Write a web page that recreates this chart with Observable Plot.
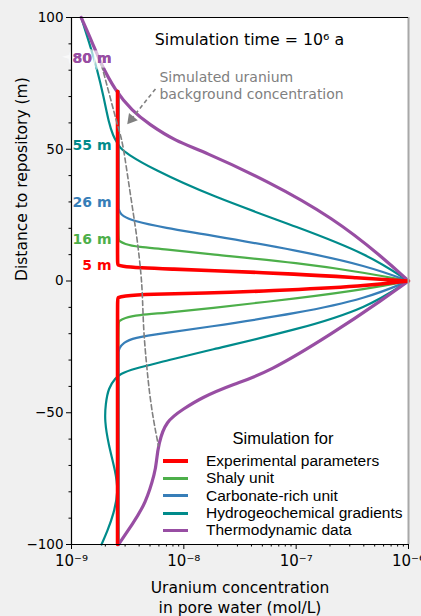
<!DOCTYPE html>
<html><head><meta charset="utf-8">
<script src="https://cdn.jsdelivr.net/npm/d3@7"></script>
<script src="https://cdn.jsdelivr.net/npm/@observablehq/plot@0.6"></script>
<style>
body{margin:0;background:#f0f0f0;}
#wrap{position:relative;width:421px;height:616px;overflow:hidden;}
#legend{position:absolute;left:160px;top:428px;width:246px;font-family:"Liberation Sans",Arial,sans-serif;color:#000;}
#legend .title{font-size:16.5px;line-height:20px;height:24.5px;text-align:center;}
#legend .row{display:flex;align-items:center;height:17.3px;font-size:15.5px;white-space:nowrap;}
#legend .sw{margin-left:3px;width:25px;margin-right:18px;}
</style></head><body><div id="wrap"></div>
<script>
// ---- data (distance to repository in m, uranium concentration in mol/L) ----
const seriesNames = ["Experimental parameters","Shaly unit","Carbonate-rich unit","Hydrogeochemical gradients","Thermodynamic data"];
const seriesColors = ["#ff0000","#4daf4a","#377eb8","#008b8b","#984ea3"];

const redDepth = [72, 6.2, 5.6, 5.0, 4.5, 4.1, 2.6, 1.2, 0, -1.9, -3.8, -4.6, -5.0, -5.7, -6.4, -100];
const redConc  = [2.57e-9, 2.57e-9, 2.75e-9, 4e-9, 8e-9, 1.5e-8, 1.09e-7, 3.5e-7, 1e-6, 4.3e-7, 5.6e-8, 1.5e-8, 5e-9, 2.8e-9, 2.57e-9, 2.57e-9];

const greenDepth = [72, 15.4, 14.0, 12.9, 12.1, 10.3, 6.8, 3.0, 0, -3.0, -6.5, -10.6, -12.1, -12.9, -14.0, -15.4, -100];
const greenConc  = [2.62e-9, 2.62e-9, 2.95e-9, 3.9e-9, 6.9e-9, 1.56e-8, 1.09e-7, 4.3e-7, 1e-6, 4.3e-7, 1.09e-7, 1.5e-8, 6.9e-9, 3.9e-9, 2.95e-9, 2.62e-9, 2.62e-9];

const blueDepth = [72, 27.5, 26.0, 24.7, 22.8, 20.1, 17.8, 11.4, 5.7, 0, -6.5, -12.1, -17.8, -19.7, -21.6, -23.5, -25.5, -27.3, -100];
const blueConc  = [2.62e-9, 2.62e-9, 2.7e-9, 2.84e-9, 3.5e-9, 6.9e-9, 1.5e-8, 1.09e-7, 4.3e-7, 1e-6, 4.3e-7, 1.09e-7, 1.45e-8, 6.9e-9, 3.5e-9, 2.9e-9, 2.65e-9, 2.62e-9, 2.62e-9];

const tealDepth = [100, 90, 80, 70, 60, 55, 52.5, 50.5, 48.2, 42.9, 32.3, 20.1, 10.2, 0, -10.2, -18.2, -26.7, -30.4, -33.4, -35.3, -36.8, -40.6, -46.7, -53, -61.9, -72.1, -80, -88.4, -94.9, -100];
const tealConc  = [1.22e-9, 1.45e-9, 1.70e-9, 1.93e-9, 2.15e-9, 2.35e-9, 2.55e-9, 2.7e-9, 3.15e-9, 5.05e-9, 1.73e-8, 1.09e-7, 4.31e-7, 1e-6, 4.3e-7, 1.09e-7, 1.5e-8, 6.9e-9, 3.49e-9, 2.73e-9, 2.46e-9, 2.13e-9, 2.01e-9, 1.97e-9, 2.13e-9, 2.46e-9, 2.62e-9, 2.37e-9, 2.09e-9, 1.85e-9];

const purpleDepth = [100, 90, 83, 72.1, 64.5, 59.6, 53.1, 49.3, 38, 23.9, 8.7, 0, -6.8, -19.7, -34.9, -39.1, -44.4, -48.5, -53.1, -61.9, -68.3, -72.1, -84.6, -92.2, -100];
const purpleConc  = [1.22e-9, 1.55e-9, 1.8e-9, 2.46e-9, 3.49e-9, 4.85e-9, 8.43e-9, 1.47e-8, 5.56e-8, 2.15e-7, 6.0e-7, 1e-6, 6.0e-7, 2.15e-7, 5.56e-8, 2.77e-8, 1.41e-8, 1.0e-8, 6.9e-9, 5.95e-9, 5.7e-9, 5.59e-9, 4.56e-9, 3.49e-9, 2.62e-9];

const bgDepth = [82, 70, 57.7, 53.1, 40.6, 27.7, 15.2, 1.1, -6.5, -19, -31.5, -42.9, -53, -62.6];
const bgConc  = [1.85e-9, 2.2e-9, 2.62e-9, 2.84e-9, 3.14e-9, 3.49e-9, 3.87e-9, 4.2e-9, 4.29e-9, 4.38e-9, 4.65e-9, 4.95e-9, 5.37e-9, 5.95e-9];

const distLabels = ["80 m", "55 m", "26 m", "16 m", "5 m"];
const distLabelDepth = [84.6, 51.6, 29.6, 15.9, 5.7];
const distLabelColorIndex = [4, 3, 2, 1, 0];
const distLabelConc = 2.27e-9;

const xTicks = [1e-9, 1e-8, 1e-7, 1e-6];
const xTickLabels = ["10⁻⁹", "10⁻⁸", "10⁻⁷", "10⁻⁶"];
const yTicks = [100, 50, 0, -50, -100];
const yTickLabels = ["100", "50", "0", "−50", "−100"];
const yMinorTicks = [90, 80, 70, 60, 40, 30, 20, 10, -10, -20, -30, -40, -60, -70, -80, -90];

const titleText = "Simulation time = 10⁶ a";
const titlePos = {c: 3.84e-8, d: 91.6};
const noteText = "Simulated uranium\nbackground concentration";
const notePos = {c: 6.07e-9, d: 74.3};
const arrowFrom = {c: 5.59e-9, d: 72.9};
const arrowHead = {c: 3.41e-9, d: 61.4};

// ---- build ----
const depths = [redDepth, greenDepth, blueDepth, tealDepth, purpleDepth];
const concs = [redConc, greenConc, blueConc, tealConc, purpleConc];
const widths = [3.6, 2.2, 2.2, 2.2, 3.2];
// repeat the source point (peak) and corner points so the smoothing spline passes through them
const rowsOf = (D, C) => D.flatMap((d, i) => {
  const p = {d, c: C[i]};
  return C[i] === 1e-6 ? [p, p, p] : (i > 0 && i < D.length - 1 && C[i] === C[i - 1]) || (i > 0 && i < D.length - 1 && C[i] === C[i + 1]) ? [p, p] : [p];
});
const drawOrder = [1, 2, 3, 4, 0];
const lineMarks = drawOrder.map(i => Plot.line(rowsOf(depths[i], concs[i]), {
  x: "c", y: "d", stroke: seriesColors[i], strokeWidth: widths[i], curve: "basis"
}));

const xMinor = [];
xTicks.slice(0, -1).forEach(t => { for (let k = 2; k <= 9; k++) xMinor.push(t * k); });

const labelRows = distLabels.map((t, i) => ({t, d: distLabelDepth[i], c: distLabelConc, col: seriesColors[distLabelColorIndex[i]]}));

const chart = Plot.plot({
  width: 421, height: 616,
  marginLeft: 71, marginRight: 13, marginTop: 17, marginBottom: 72,
  x: {type: "log", domain: [1e-9, 1e-6]},
  y: {domain: [-100, 100]},
  style: {background: "#f0f0f0", fontFamily: "'DejaVu Sans', sans-serif", fontSize: "13px", color: "black", overflow: "hidden"},
  marks: [
    Plot.frame({fill: "white", stroke: "none"}),
    ...lineMarks,
    Plot.line(rowsOf(bgDepth, bgConc), {x: "c", y: "d", stroke: "#808080", strokeWidth: 1.6, strokeDasharray: "5,3", curve: "basis"}),
    Plot.link([0], {x1: () => arrowFrom.c, y1: () => arrowFrom.d, x2: () => arrowHead.c, y2: () => arrowHead.d, stroke: "#808080", strokeWidth: 1.6, strokeDasharray: "4,3"}),
    Plot.dot([arrowHead], {x: "c", y: "d", symbol: "triangle", r: 4.2, rotate: 219, fill: "#808080", stroke: "none"}),
    Plot.text([noteText], {x: () => notePos.c, y: () => notePos.d, text: d => d, textAnchor: "start", fill: "#808080", fontSize: 14, lineHeight: 1.2}),
    Plot.text([titleText], {x: () => titlePos.c, y: () => titlePos.d, text: d => d, fill: "black", fontSize: 15.8}),
    Plot.text(labelRows.slice(0, 1), {x: "c", y: "d", text: "t", fill: "col", textAnchor: "end", fontSize: 14, fontWeight: "bold", stroke: "white", strokeOpacity: 0.65, strokeWidth: 9, strokeLinejoin: "miter"}),
    Plot.text(labelRows, {x: "c", y: "d", text: "t", fill: "col", textAnchor: "end", fontSize: 14, fontWeight: "bold"}),
    Plot.axisX(xMinor, {tickSize: 2.5, tickFormat: () => "", label: null}),
    Plot.axisX(xTicks, {tickSize: 5, tickPadding: 6, tickFormat: (d) => xTickLabels[xTicks.indexOf(d)], fontSize: 15, label: null}),
    Plot.axisY(yMinorTicks, {tickSize: 2.5, tickFormat: () => "", label: null}),
    Plot.axisY(yTicks, {tickSize: 5, tickPadding: 3, tickFormat: d => yTickLabels[yTicks.indexOf(d)], fontSize: 13.5, label: null}),
    Plot.ruleX([1e-6], {stroke: "#a8a8a8", strokeWidth: 2}),
    Plot.ruleX([1e-9], {stroke: "black", strokeWidth: 1.2}),
    Plot.ruleY([-100], {stroke: "black", strokeWidth: 1.2}),
    Plot.ruleY([100], {stroke: "black", strokeWidth: 1.2}),
    Plot.text(["Distance to repository (m)"], {frameAnchor: "left", rotate: -90, dx: -49, fontSize: 15.5, fill: "black"}),
    Plot.text(["Uranium concentration\nin pore water (mol/L)"], {frameAnchor: "bottom", dy: 68, lineHeight: 1.25, fontSize: 15.5, fill: "black"})
  ]
});

const wrap = document.getElementById("wrap");
wrap.appendChild(chart);

// legend
const legend = document.createElement("div");
legend.id = "legend";
let html = '<div class="title">Simulation for</div>';
seriesNames.forEach((n, i) => {
  html += `<div class="row"><span class="sw" style="background:${seriesColors[i]};height:${i === 0 ? 4 : 3}px"></span><span>${n}</span></div>`;
});
legend.innerHTML = html;
wrap.appendChild(legend);
</script></body></html>
